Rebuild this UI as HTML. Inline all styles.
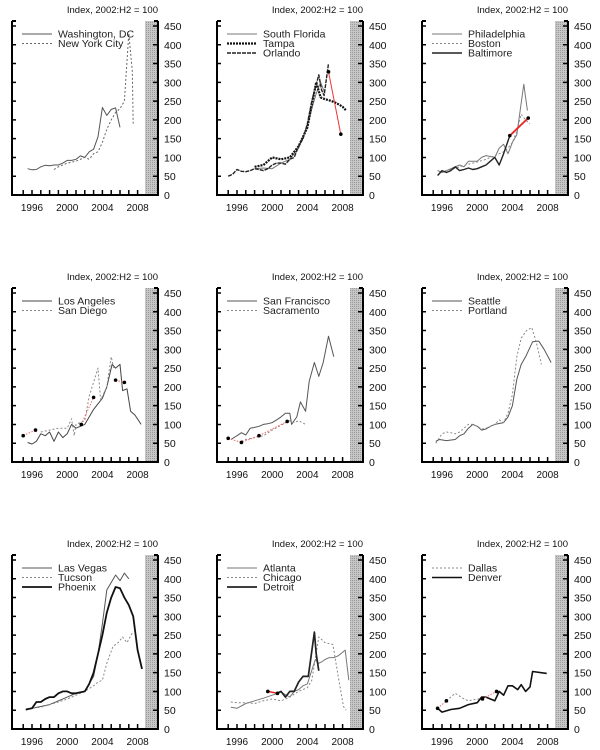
<!DOCTYPE html>
<html><head><meta charset="utf-8"><style>
html,body{margin:0;padding:0;background:#fff;width:600px;height:750px;overflow:hidden}
svg text{font-family:"Liberation Sans",sans-serif}
</style></head><body>
<svg id="c" width="600" height="750" xmlns="http://www.w3.org/2000/svg">
<defs><pattern id="dots" width="2" height="2" patternUnits="userSpaceOnUse"><rect width="2" height="2" fill="#c6c6c6"/><rect width="1" height="1" fill="#9a9a9a"/></pattern></defs>
</svg>
<script>
const yTicks=[0,50,100,150,200,250,300,350,400,450];
const yearLabels=[1996,2000,2004,2008];
const yearTicks=[1995,1996,1997,1998,1999,2000,2001,2002,2003,2004,2005,2006,2007,2008];
// Panel 1
const dcYears=[1995.5,1996,1996.5,1997,1997.5,1998,1998.5,1999,1999.5,2000,2000.5,2001,2001.5,2002,2002.5,2003,2003.5,2004,2004.5,2005,2005.5,2006];
const dcVals=[70,67,68,75,79,78,80,80,85,92,92,95,104,100,115,122,155,233,212,228,232,180];
const nyYears=[1998.5,1999,2000,2001,2002,2002.5,2003,2003.5,2004,2004.5,2005,2005.5,2006,2006.5,2007,2007.4,2007.5];
const nyVals=[68,75,85,90,100,95,110,115,140,175,200,220,230,250,430,330,190];
// Panel 2
const sflYears=[1998,1999,2000,2001,2002,2003,2004,2004.5,2005,2005.5,2006];
const sflVals=[70,72,70,85,95,125,185,230,270,300,270];
const tpaYears=[1998,1999,2000,2001,2002,2003,2004,2004.5,2005,2005.5,2006,2006.5,2007,2007.5,2008,2008.4];
const tpaVals=[75,80,100,95,100,130,180,240,300,260,255,252,248,242,235,225];
const orlYears=[1995,1995.5,1996,1996.5,1997,1997.5,1998,1998.5,1999,1999.5,2000,2000.5,2001,2001.5,2002,2002.5,2003,2003.5,2004,2004.5,2005.3,2005.6,2005.9,2006.4];
const orlVals=[50,55,68,63,62,65,70,68,65,70,80,85,85,82,95,100,130,150,190,250,320,280,265,350];
const flRedYears=[2006.4,2007.8];
const flRedVals=[328,162];
// Panel 3
const phlYears=[1995.5,1996,1997,1998,1998.5,1999,2000,2000.5,2001,2002,2002.5,2003,2003.5,2004,2004.5,2005.3,2005.7];
const phlVals=[65,60,70,80,75,90,90,100,105,100,125,135,110,140,160,295,225];
const bosYears=[1995.5,1996,1997,1998,1999,2000,2001,2002,2003,2003.5,2004,2004.5,2005,2005.5,2006];
const bosVals=[65,62,68,75,82,88,95,105,115,125,140,170,215,200,190];
const balYears=[1995.5,1996,1996.5,1997,1997.5,1998,1998.5,1999,1999.5,2000,2000.5,2001,2001.5,2002,2002.5,2003,2003.7];
const balVals=[52,65,60,65,75,65,68,72,68,70,75,80,90,100,80,110,158];
const balRedYears=[2003.7,2005.8];
const balRedVals=[158,205];
// Panel 4
const laYears=[1995.5,1996,1996.5,1997,1997.5,1998,1998.5,1999,1999.5,2000,2000.5,2001,2001.5,2002,2002.5,2003,2003.5,2004,2004.5,2005.1,2005.5,2006,2006.3,2006.8,2007.2,2007.7,2008.4];
const laVals=[52,48,55,75,70,80,55,80,65,75,100,90,95,100,120,140,155,170,200,260,250,260,190,195,135,125,100];
const sdYears=[1997,1998,1999,2000,2000.5,2000.8,2001,2002,2002.5,2003.5,2003.8,2004.5,2005,2005.3];
const sdVals=[80,85,90,90,115,70,100,110,175,250,165,200,280,250];
const laDotYears=[1995,1996.4,2001.6,2003.0,2005.5,2006.5];
const laDotVals=[70,85,100,172,218,212];
// Panel 5
const sfYears=[1995.3,1996,1996.5,1997,1997.5,1998,1998.5,1999,1999.5,2000,2000.5,2001,2001.5,2002,2002.2,2002.8,2003.2,2003.8,2004.2,2004.8,2005.3,2005.8,2006.4,2007.0];
const sfVals=[60,70,78,72,90,92,95,100,102,105,112,120,130,130,100,120,160,135,215,265,228,265,335,280];
const sacYears=[1996.5,1997,1998,1999,2000,2001,2002,2002.5,2003,2003.8];
const sacVals=[55,60,65,70,85,98,110,105,110,100];
const sfDotYears=[1995,1996.5,1998.5,2001.7];
const sfDotVals=[63,52,70,108];
// Panel 6
const seaYears=[1995.3,1995.7,1996.5,1997.5,1998,1998.5,1999,1999.5,2000,2000.5,2001,2001.5,2002,2003,2003.5,2004,2004.5,2005,2005.5,2006.3,2007,2007.6,2008.4];
const seaVals=[55,60,57,60,70,75,90,100,95,85,88,95,100,105,120,150,220,260,280,320,322,300,265];
const porYears=[1995.3,1996,1996.5,1997,1997.5,1998,1998.5,1999,1999.5,2000,2000.5,2001,2002,2002.5,2003,2003.5,2004,2004.5,2005,2005.6,2006.2,2006.7,2007.3];
const porVals=[50,75,80,78,75,80,90,100,100,95,88,90,100,112,105,130,180,280,330,350,358,320,260];
// Panel 7
const lvYears=[1995.3,1996,1997,1998,1999,2000,2001,2002,2003,2003.5,2004,2004.5,2005.5,2006,2006.5,2007.0];
const lvVals=[52,55,60,65,75,85,95,100,140,200,280,370,410,395,415,400];
const tucYears=[1995.3,1996,1997,1998,1999,2000,2001,2002,2003,2003.5,2004,2004.5,2005.2,2005.8,2006.3,2006.8,2007.5];
const tucVals=[50,55,58,65,72,80,90,100,115,125,130,175,220,230,245,230,260];
const phxYears=[1995.3,1996,1996.5,1997,1997.5,1998,1998.5,1999,1999.5,2000,2000.5,2001,2002,2002.5,2003,2003.5,2004,2004.5,2005,2005.5,2006,2006.5,2007,2007.5,2008,2008.5];
const phxVals=[52,55,72,72,80,85,85,95,100,100,95,95,100,120,150,200,250,310,350,378,375,350,330,300,210,160];
// Panel 8
const atlYears=[1995.3,1996,1997,1998,1999,2000,2001,2002,2002.5,2003,2003.5,2004,2004.9,2005.3,2005.7,2006,2006.5,2007,2007.5,2008.3,2008.7];
const atlVals=[58,55,68,75,82,90,98,85,100,105,115,120,185,175,180,185,190,190,195,210,130];
const chiYears=[1995.3,1996,1997,1998,1999,2000,2001,2002,2003,2004,2004.5,2005.3,2006,2006.9,2007.5,2008.1,2008.4];
const chiVals=[72,70,70,68,75,80,75,85,100,110,130,245,230,225,140,60,50];
const detYears=[2000.6,2001,2001.5,2002,2002.5,2003,2003.5,2004.1,2004.8,2005.0,2005.3];
const detVals=[95,100,85,100,100,125,140,140,258,200,155];
const detRedYears=[1999.5,2000.6];
const detRedVals=[100,95];
// Panel 9
const dalYears=[1996.5,1997.5,1998.5,1999,2000,2000.6];
const dalVals=[75,95,80,75,80,80];
const denYears=[1995.5,1996,1997,1998,1999,2000,2000.5,2001,2001.5,2002,2002.5,2003,2003.5,2004,2004.6,2005,2005.5,2006,2006.3,2007.9];
const denVals=[55,45,52,55,65,70,85,85,80,75,100,90,115,115,105,118,100,112,153,148];
const denDotYears=[1995.5,1996.5,2000.6,2002.2];
const denDotVals=[55,75,80,100];

const NS='http://www.w3.org/2000/svg';
const svg=document.getElementById('c');
function mk(tag,attrs,parent){const e=document.createElementNS(NS,tag);for(const k in attrs)e.setAttribute(k,attrs[k]);(parent||svg).appendChild(e);return e;}
const colL=[12,217,422];
const rowB=[195,462,729];
const yScale=169/450;
const pxYear=8.8;

const panels=[
 {c:0,r:0,name:'washington-ny',legend:['Washington, DC','New York City'],series:[
  {n:'washington-dc-line',x:dcYears,y:dcVals,s:'#555',w:1},
  {n:'new-york-line',x:nyYears,y:nyVals,s:'#666',w:1,d:'2,2'}]},
 {c:1,r:0,name:'florida',legend:['South Florida','Tampa','Orlando'],series:[
  {n:'south-florida-line',x:sflYears,y:sflVals,s:'#777',w:1},
  {n:'tampa-line',x:tpaYears,y:tpaVals,s:'#111',w:2.2,d:'2,1'},
  {n:'orlando-line',x:orlYears,y:orlVals,s:'#222',w:1.4,d:'4,1'},
  {n:'florida-red-segment',x:flRedYears,y:flRedVals,s:'#e33',w:1,dots:1}]},
 {c:2,r:0,name:'northeast',legend:['Philadelphia','Boston','Baltimore'],series:[
  {n:'philadelphia-line',x:phlYears,y:phlVals,s:'#777',w:1},
  {n:'boston-line',x:bosYears,y:bosVals,s:'#888',w:1,d:'2,2'},
  {n:'baltimore-line',x:balYears,y:balVals,s:'#222',w:1.4},
  {n:'baltimore-red-segment',x:balRedYears,y:balRedVals,s:'#e22',w:1.8,dots:1}]},
 {c:0,r:1,name:'southern-california',legend:['Los Angeles','San Diego'],series:[
  {n:'los-angeles-line',x:laYears,y:laVals,s:'#444',w:1},
  {n:'san-diego-line',x:sdYears,y:sdVals,s:'#888',w:1,d:'2,2'},
  {n:'la-red-dots',x:laDotYears,y:laDotVals,s:'#f66',w:1,d:'1.5,1.5',dots:1,pairs:1}]},
 {c:1,r:1,name:'northern-california',legend:['San Francisco','Sacramento'],series:[
  {n:'san-francisco-line',x:sfYears,y:sfVals,s:'#555',w:1},
  {n:'sacramento-line',x:sacYears,y:sacVals,s:'#888',w:1,d:'2,2'},
  {n:'sf-red-dots',x:sfDotYears,y:sfDotVals,s:'#f66',w:1,d:'1.5,1.5',dots:1}]},
 {c:2,r:1,name:'pacific-northwest',legend:['Seattle','Portland'],series:[
  {n:'seattle-line',x:seaYears,y:seaVals,s:'#555',w:1},
  {n:'portland-line',x:porYears,y:porVals,s:'#888',w:1,d:'2,2'}]},
 {c:0,r:2,name:'southwest',legend:['Las Vegas','Tucson','Phoenix'],series:[
  {n:'las-vegas-line',x:lvYears,y:lvVals,s:'#555',w:1},
  {n:'tucson-line',x:tucYears,y:tucVals,s:'#888',w:1,d:'2,2'},
  {n:'phoenix-line',x:phxYears,y:phxVals,s:'#111',w:1.8}]},
 {c:1,r:2,name:'midwest-south',legend:['Atlanta','Chicago','Detroit'],series:[
  {n:'atlanta-line',x:atlYears,y:atlVals,s:'#777',w:1},
  {n:'chicago-line',x:chiYears,y:chiVals,s:'#888',w:1,d:'2,2'},
  {n:'detroit-line',x:detYears,y:detVals,s:'#222',w:1.7},
  {n:'detroit-red-segment',x:detRedYears,y:detRedVals,s:'#e22',w:1.5,dots:1}]},
 {c:2,r:2,name:'texas-colorado',legend:['Dallas','Denver'],series:[
  {n:'dallas-line',x:dalYears,y:dalVals,s:'#888',w:1,d:'2,2'},
  {n:'denver-line',x:denYears,y:denVals,s:'#111',w:1.6},
  {n:'denver-red-dots',x:denDotYears,y:denDotVals,s:'#f66',w:1,d:'1.5,1.5',dots:1,pairs:1}]}
];

panels.forEach(p=>{
 const L=colL[p.c], B=rowB[p.r], T=B-169-5, R=L+146;
 const X=yr=>L+20+(yr-1996)*pxYear;
 const Y=v=>B-v*yScale;
 const g=mk('g',{});
 
 
 const band=mk('rect',{x:L+133,y:T,width:13,height:B-T,fill:'url(#dots)'},g);
 
 
 const t=mk('text',{x:R,y:T-8,'font-size':'9.5','text-anchor':'end',fill:'#111'},g);
 t.textContent='Index, 2002:H2 = 100';
 
 
 const ax=mk('path',{d:`M${L},${T}V${B}H${R}V${T}`,stroke:'#000','stroke-width':2,fill:'none'},g);
 
 
 mk('path',{d:`M${L},${T}h4M${R},${T}h-4`,stroke:'#000','stroke-width':2},g);
 yTicks.forEach(v=>{
  if(v>0) mk('path',{d:`M${L},${Y(v)}h4M${R},${Y(v)}h-5`,stroke:'#000','stroke-width':1.5},g);
  const tl=mk('text',{x:L+152,y:Y(v)+4,'font-size':'10.5',fill:'#111'},g);
  tl.textContent=v;
  
  
 });
 yearTicks.forEach(yr=>{mk('path',{d:`M${X(yr)},${B}v-5`,stroke:'#000','stroke-width':1.5},g);});
 yearLabels.forEach(yr=>{
  const xl=mk('text',{x:X(yr),y:B+16,'font-size':'10','text-anchor':'middle',fill:'#111'},g);
  xl.textContent=yr;
  
  
 });
 p.series.forEach(s=>{
  if(s.pairs){
   for(let i=0;i+1<s.x.length;i+=2){
    const pl=mk('path',{d:`M${X(s.x[i])},${Y(s.y[i])}L${X(s.x[i+1])},${Y(s.y[i+1])}`,stroke:s.s,'stroke-width':s.w,fill:'none','stroke-dasharray':s.d||'none'},g);
    
    
   }
  } else {
   const d=s.x.map((xv,i)=>(i?'L':'M')+X(xv).toFixed(1)+','+Y(s.y[i]).toFixed(1)).join('');
   const pl=mk('path',{d:d,stroke:s.s,'stroke-width':s.w,fill:'none','stroke-linejoin':'round','stroke-dasharray':s.d||'none'},g);
   
   
  }
  if(s.dots){s.x.forEach((xv,i)=>{
   const c=mk('circle',{cx:X(xv),cy:Y(s.y[i]),r:1.8,fill:'#000'},g);
   
   
  });}
 });
 p.legend.forEach((lab,i)=>{
  const s=p.series[i];
  const ly=T+13+i*9.5;
  const ll=mk('path',{d:`M${L+10},${ly}H${L+40}`,stroke:s.s,'stroke-width':s.w,'stroke-dasharray':s.d||'none'},g);
  
  
  const lt=mk('text',{x:L+46,y:ly+3.5,'font-size':'10.5',fill:'#222'},g);
  lt.textContent=lab;
  
  
 });
});
</script>
</body></html>
